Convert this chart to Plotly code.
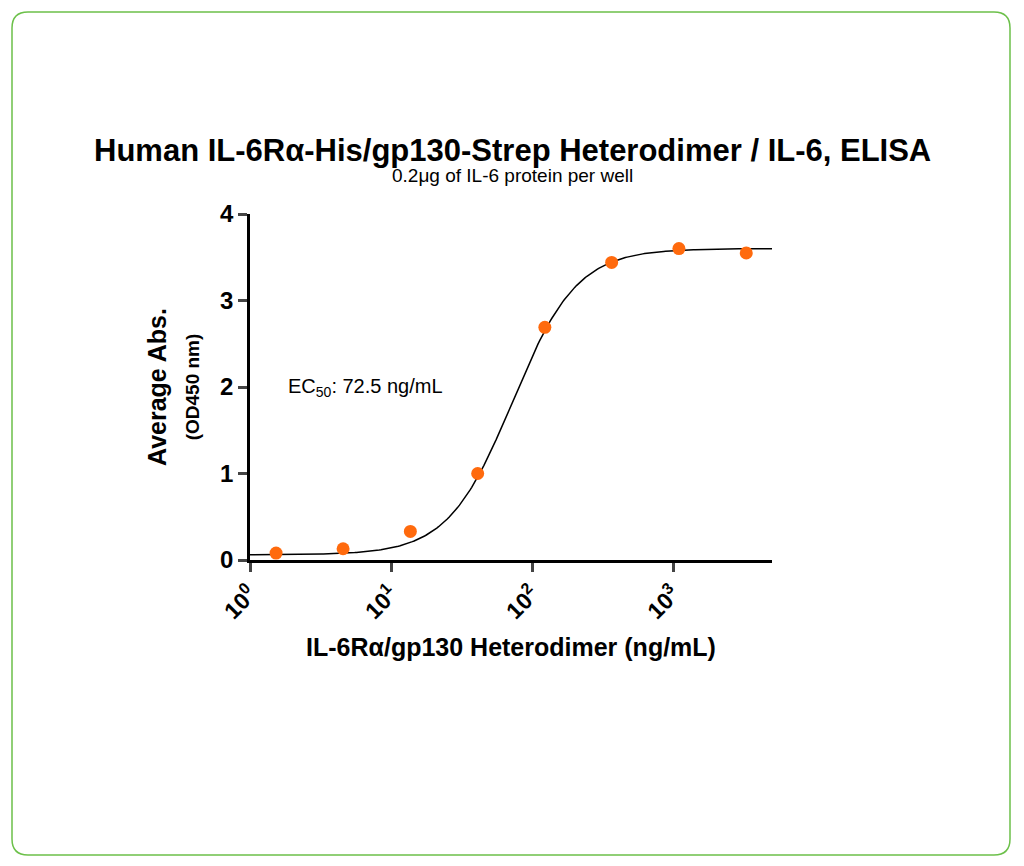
import numpy as np
import plotly.graph_objects as go

# measured points (ng/mL vs OD450)
conc = [1.53, 4.57, 13.7, 41.1, 123.0, 366.0, 1097.0, 3292.0]
od = [0.08, 0.13, 0.33, 1.0, 2.69, 3.44, 3.60, 3.55]

# 4PL fit parameters
bottom, top, ec50, hill = 0.06, 3.60, 72.5, 1.9

tick_vals = [1, 10, 100, 1000]
tick_text = ["10<sup>0</sup>", "10<sup>1</sup>", "10<sup>2</sup>", "10<sup>3</sup>"]

xc = np.logspace(0, 3.7, 300)
yc = bottom + (top - bottom) / (1 + (ec50 / xc) ** hill)

# page gets an 8px offset in the browser, so shift everything back
off = 8
W, H = 1024, 866
L, R, T, B = 250 - off, 252 + off, 214 - off, 306 + off
pw, ph = W - L - R, H - T - B
def px(x): return (x - off - L) / pw
def py(y): return (H - B - (y - off)) / ph

fig = go.Figure()
fig.add_trace(go.Scatter(x=xc, y=yc, mode="lines", line=dict(color="black", width=1.5),
                         showlegend=False, hoverinfo="skip"))
fig.add_trace(go.Scatter(x=conc, y=od, mode="markers",
                         marker=dict(color="#ff6a0d", size=13), showlegend=False))

font = "Liberation Sans, Arial, sans-serif"
fig.update_layout(
    width=W, height=H, margin=dict(l=L, r=R, t=T, b=B),
    paper_bgcolor="white", plot_bgcolor="white",
    font=dict(family=font, color="black"),
    xaxis=dict(type="log", range=[0, 3.7], tickvals=tick_vals, ticktext=tick_text,
               tickangle=-45, ticks="outside", ticklen=9, tickwidth=2.5,
               showline=True, linewidth=2.5, linecolor="black", showgrid=False, zeroline=False,
               tickfont=dict(size=23, family=font, weight="bold"),
               title=dict(text="<b>IL-6Rα/gp130 Heterodimer (ng/mL)</b>", font=dict(size=25), standoff=16)),
    yaxis=dict(range=[0, 4], tickvals=[0, 1, 2, 3, 4], ticks="outside", ticklen=9, tickwidth=2.5,
               showline=True, linewidth=2.5, linecolor="black", showgrid=False, zeroline=False,
               tickfont=dict(size=24, family=font, weight="bold"),
               title=dict(text="<b>Average Abs.</b><br><span style='font-size:19px'><b>(OD450 nm)</b></span>",
                          font=dict(size=25), standoff=14)),
)

cx = 512 - off - (L + pw / 2)
fig.add_annotation(x=0.5, xref="paper", y=py(131), yref="paper", showarrow=False,
                   text="<b>Human IL-6Rα-His/gp130-Strep Heterodimer / IL-6, ELISA</b>",
                   font=dict(size=31), xshift=cx)
fig.add_annotation(x=0.5, xref="paper", y=py(163), yref="paper", showarrow=False,
                   text="0.2μg of IL-6 protein per well",
                   font=dict(size=19), xshift=cx)
fig.add_annotation(x=px(286), xref="paper", y=2.0, yref="y", showarrow=False, xanchor="left",
                   text="EC<sub>50</sub>: 72.5 ng/mL", font=dict(size=20))

# rounded green frame
x0, x1, y0, y1, r = 12, 1010, 12, 855, 16
path = (f"M {px(x0+r)},{py(y0)} L {px(x1-r)},{py(y0)} Q {px(x1)},{py(y0)} {px(x1)},{py(y0+r)} "
        f"L {px(x1)},{py(y1-r)} Q {px(x1)},{py(y1)} {px(x1-r)},{py(y1)} "
        f"L {px(x0+r)},{py(y1)} Q {px(x0)},{py(y1)} {px(x0)},{py(y1-r)} "
        f"L {px(x0)},{py(y0+r)} Q {px(x0)},{py(y0)} {px(x0+r)},{py(y0)} Z")
fig.add_shape(type="path", path=path, xref="paper", yref="paper",
              line=dict(color="#6cc04a", width=1.5))

fig.write_html("out.html")
